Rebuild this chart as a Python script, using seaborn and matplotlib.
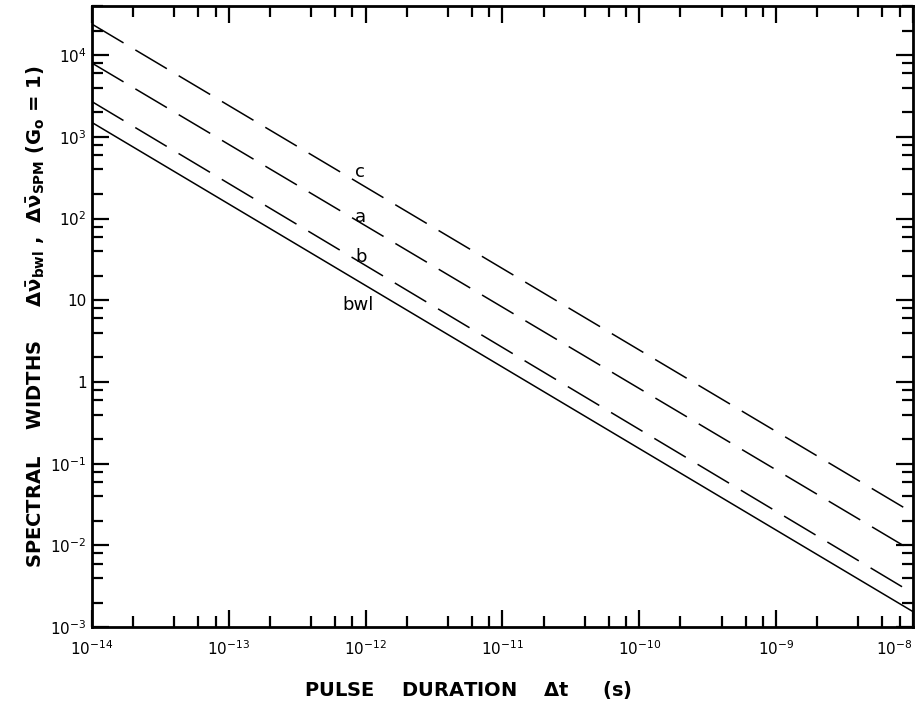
import numpy as np
import pandas as pd
import matplotlib
matplotlib.use("Agg")
import matplotlib.pyplot as plt
import matplotlib.ticker as mticker
import seaborn as sns

# Values (straight lines on log-log axes, endpoints only)
pulse_duration = [1e-14, 1e-8]
width_bwl = [1.5e3, 1.55e-3]
width_b = [2.7e3, 2.6e-3]
width_a = [8.0e3, 8.5e-3]
width_c = [2.4e4, 2.5e-2]

curve_names = ["bwl", "b", "a", "c"]
curve_label_x = [6.8e-13, 8.4e-13, 8.3e-13, 8.3e-13]
curve_label_y = [8.7, 34, 105, 370]

x_ticks = [1e-14, 1e-13, 1e-12, 1e-11, 1e-10, 1e-9, 1e-8]
x_tick_labels = [r"$10^{-14}$", r"$10^{-13}$", r"$10^{-12}$", r"$10^{-11}$",
                 r"$10^{-10}$", r"$10^{-9}$", r"$10^{-8}$"]
y_ticks = [1e-3, 1e-2, 1e-1, 1, 10, 1e2, 1e3, 1e4]
y_tick_labels = [r"$10^{-3}$", r"$10^{-2}$", r"$10^{-1}$", "1", "10",
                 r"$10^{2}$", r"$10^{3}$", r"$10^{4}$"]

sns.set_style("ticks")
plt.rcParams["font.family"] = ["DejaVu Sans"]
plt.rcParams["mathtext.fontset"] = "dejavusans"
plt.rcParams["mathtext.default"] = "regular"
for key in ["text.color", "axes.labelcolor", "xtick.color", "ytick.color"]:
    plt.rcParams[key] = "black"

fig = plt.figure(figsize=(9.23, 7.07), dpi=100)
ax = fig.add_axes([0.0997, 0.113, 0.8893, 0.8785])

series = {"bwl": width_bwl, "b": width_b, "a": width_a, "c": width_c}
styles = {"bwl": "-", "b": (0, (24, 9)), "a": (0, (24, 9)), "c": (0, (24, 9))}
for name in curve_names:
    sns.lineplot(x=pulse_duration, y=series[name], ax=ax, color="black",
                 linewidth=1.1, linestyle=styles[name])

for name, lx, ly in zip(curve_names, curve_label_x, curve_label_y):
    ax.text(lx, ly, name, fontsize=13, ha="left", va="center")

ax.set_xscale("log")
ax.set_yscale("log")
ax.set_xlim(1e-14, 1e-8)
ax.set_ylim(1e-3, 4e4)

ax.set_xticks(x_ticks)
ax.set_xticklabels(x_tick_labels)
ax.set_yticks(y_ticks)
ax.set_yticklabels(y_tick_labels)
ax.xaxis.set_minor_locator(mticker.LogLocator(base=10, subs=[2, 4, 6, 8]))
ax.yaxis.set_minor_locator(mticker.LogLocator(base=10, subs=[2, 4, 6, 8]))
ax.xaxis.set_minor_formatter(mticker.NullFormatter())
ax.yaxis.set_minor_formatter(mticker.NullFormatter())

ax.tick_params(which="both", direction="in", top=True, right=True,
               width=1.6, labelsize=11, color="black")
ax.tick_params(which="major", length=12)
ax.tick_params(which="minor", length=8)
ax.tick_params(axis="x", pad=9)
ax.tick_params(axis="y", pad=4)
ax.get_xticklabels()[-1].set_horizontalalignment("right")
ax.get_xticklabels()[0].set_horizontalalignment("center")
for sp in ax.spines.values():
    sp.set_linewidth(2.0)
    sp.set_color("black")

ax.set_xlabel("PULSE    DURATION    $\\Delta$t     (s)", fontsize=14,
              fontweight="bold")
ax.xaxis.set_label_coords(0.458, -0.101)
ax.xaxis.label.set_verticalalignment("center")
ax.set_ylabel("SPECTRAL    WIDTHS     $\\Delta\\bar{\\nu}_{bwl}$ ,  "
              "$\\Delta\\bar{\\nu}_{SPM}$ (G$_o$ = 1)", fontsize=14,
              fontweight="bold")
ax.yaxis.set_label_coords(-0.069, 0.5)
ax.yaxis.label.set_verticalalignment("center")

fig.savefig("out.png", dpi=100, facecolor="white")
